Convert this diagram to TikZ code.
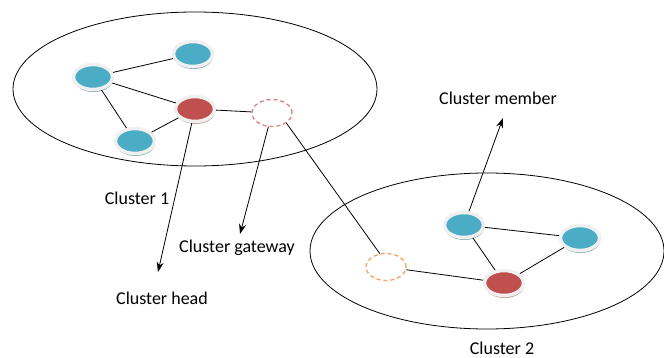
\documentclass[tikz,border=0pt]{standalone}
\usepackage{fontspec}
\setmainfont{Carlito}
\usetikzlibrary{shapes.geometric,shadows,arrows.meta}

\definecolor{memberblue}{HTML}{4BACC6}
\definecolor{headred}{HTML}{C0504D}
\definecolor{gatered}{HTML}{D9827F}
\definecolor{gateorange}{HTML}{F7A15E}

\tikzset{
	sensor/.style={ellipse, minimum width=39pt, minimum height=25pt, inner sep=0pt,
		draw=gray!12, line width=3.5pt},
	member/.style={sensor, fill=memberblue,
		drop shadow={shadow xshift=0.5pt, shadow yshift=-2.5pt, fill=memberblue!45!gray!75, opacity=1}},
	head/.style={sensor, fill=headred,
		drop shadow={shadow xshift=0.5pt, shadow yshift=-2.5pt, fill=headred!50!gray!65, opacity=1}},
	gateway/.style={ellipse, minimum width=40pt, minimum height=27pt, inner sep=0pt,
		dashed, dash pattern=on 4pt off 3pt, line width=1.3pt},
	link/.style={line width=0.8pt},
	pointer/.style={line width=0.8pt, -{Stealth[length=10pt,width=7pt]}},
	label/.style={font=\fontsize{18}{20}\selectfont, inner sep=0pt}
}

\begin{document}
\begin{tikzpicture}[x=1pt,y=-1pt]
		\useasboundingbox (0,0) rectangle (664,358);
		
		%%% clusters
		\draw[line width=0.8pt] (195,89) ellipse [x radius=182pt, y radius=77pt];
		\draw[line width=0.8pt] (487,251) ellipse [x radius=177pt, y radius=78pt];
		
		%%% cluster 1
		\node[member] (a1) at (93,77) {};
		\node[member] (b1) at (193,54) {};
		\node[head] (h1) at (195,109) {};
		\node[member] (d1) at (135,141) {};
		\node[gateway, draw=gatered] (g1) at (272,113) {};
		
		\draw[link] (a1) -- (b1);
		\draw[link] (a1) -- (h1);
		\draw[link] (a1) -- (d1);
		\draw[link] (d1) -- (h1);
		\draw[link] (h1) -- (g1);
		
		%%% cluster 2
		\node[gateway, draw=gateorange] (g2) at (386,267) {};
		\node[member] (e2) at (464,225) {};
		\node[member] (f2) at (580,238) {};
		\node[head] (h2) at (504,283) {};
		
		\draw[link] (g2) -- (h2);
		\draw[link] (e2) -- (h2);
		\draw[link] (e2) -- (f2);
		\draw[link] (f2) -- (h2);
		
		%%% gateway to gateway
		\draw[link] (g1.-35) -- (g2.115);
		
		%%% labels
		\node[label] (c1) at (137,198) {Cluster 1};
		\node[label] (c2) at (502,348) {Cluster 2};
		\node[label] (gw) at (237,248) {Cluster gateway};
		\node[label] (hd) at (162,298) {Cluster head};
		\node[label] (mb) at (498,98) {Cluster member};
		
		\coordinate (hdtip) at (158,272);
		\coordinate (gwtip) at (240,234);
		\coordinate (mbtip) at (503,118);
		
		\draw[pointer] (h1) -- (hdtip);
		\draw[pointer] (g1) -- (gwtip);
		\draw[pointer] (e2) -- (mbtip);
		
\end{tikzpicture}
\end{document}
